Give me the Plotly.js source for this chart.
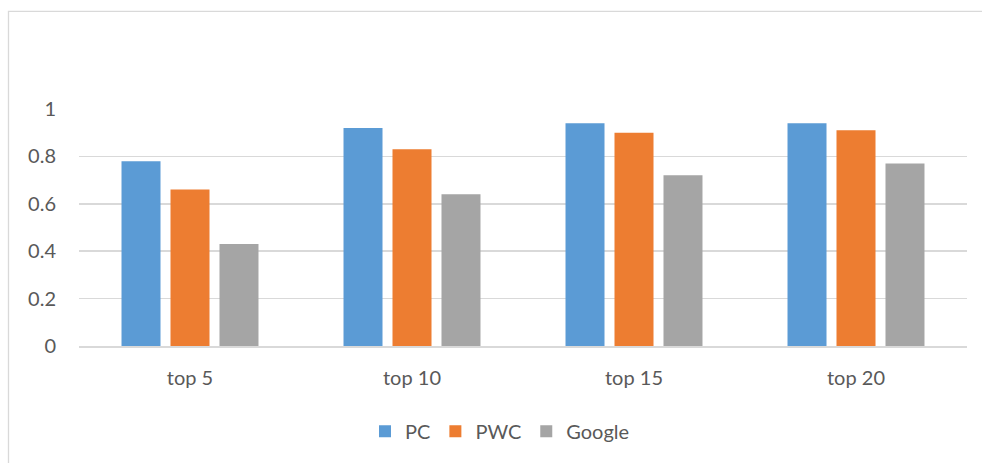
<!DOCTYPE html>
<html>
<head>
<meta charset="utf-8">
<script src="https://cdn.plot.ly/plotly-3.0.1.min.js"></script>
<style>
  html, body { margin: 0; padding: 0; background: #ffffff; }
  #chart { width: 982px; height: 463px; }
</style>
</head>
<body>
<div id="chart"></div>
<script>
// Precision at top-k results for the three ranking methods
const categories = ['top 5', 'top 10', 'top 15', 'top 20'];
const pcValues = [0.78, 0.92, 0.94, 0.94];
const pwcValues = [0.66, 0.83, 0.90, 0.91];
const googleValues = [0.43, 0.64, 0.72, 0.77];
const yTicks = [0, 0.2, 0.4, 0.6, 0.8, 1];
const yTickLabels = ['0', '0.2', '0.4', '0.6', '0.8', '1'];

const FONT = 'Lato, Calibri, "Liberation Sans", sans-serif';
const TEXT = '#595959';
const GRID = '#d9d9d9';
const FS = 20;

const series = [
  { name: 'PC', y: pcValues, color: '#5b9bd5' },
  { name: 'PWC', y: pwcValues, color: '#ed7d31' },
  { name: 'Google', y: googleValues, color: '#a5a5a5' }
];

const traces = series.map(s => ({
  type: 'bar',
  name: s.name,
  x: categories,
  y: s.y,
  marker: { color: s.color, line: { width: 0 } },
  hoverinfo: 'x+y+name'
}));

// plot area spans x 79..967, y 108.5..346.5 in pixels
const L = 79, R = 15, T = 108.5, B = 116.5;
const pw = 982 - L - R, ph = 463 - T - B;
const px = v => (v - L) / pw;
const py = v => (463 - B - v) / ph;

const layout = {
  width: 982,
  height: 463,
  margin: { l: L, r: R, t: T, b: B, pad: 0 },
  paper_bgcolor: '#ffffff',
  plot_bgcolor: '#ffffff',
  font: { family: FONT, size: FS, color: TEXT },
  barmode: 'group',
  bargap: 0.338,
  bargroupgap: 0.204,
  showlegend: true,
  legend: {
    orientation: 'h',
    x: px(500), xanchor: 'center',
    y: py(432), yanchor: 'middle',
    font: { family: FONT, size: FS, color: TEXT },
    itemwidth: 30,
    traceorder: 'normal'
  },
  xaxis: {
    type: 'category',
    showgrid: false,
    showline: true,
    linecolor: GRID,
    linewidth: 1.5,
    ticks: '',
    ticklabelstandoff: 13,
    tickfont: { family: FONT, size: FS, color: TEXT },
    fixedrange: true
  },
  yaxis: {
    range: [0, 1],
    tickvals: yTicks,
    ticktext: yTickLabels,
    showgrid: true,
    gridcolor: GRID,
    gridwidth: 1.5,
    zeroline: false,
    showline: false,
    ticks: '',
    ticklabelstandoff: 22,
    tickfont: { family: FONT, size: FS, color: TEXT },
    fixedrange: true
  },
  shapes: [{
    type: 'rect',
    xref: 'paper', yref: 'paper',
    x0: px(8.5), x1: px(1000),
    y0: py(480), y1: py(10.5),
    line: { color: '#d9d9d9', width: 1.3 },
    fillcolor: 'rgba(0,0,0,0)',
    layer: 'below'
  }]
};

Plotly.newPlot('chart', traces, layout, { displayModeBar: false, staticPlot: true });
</script>
</body>
</html>
